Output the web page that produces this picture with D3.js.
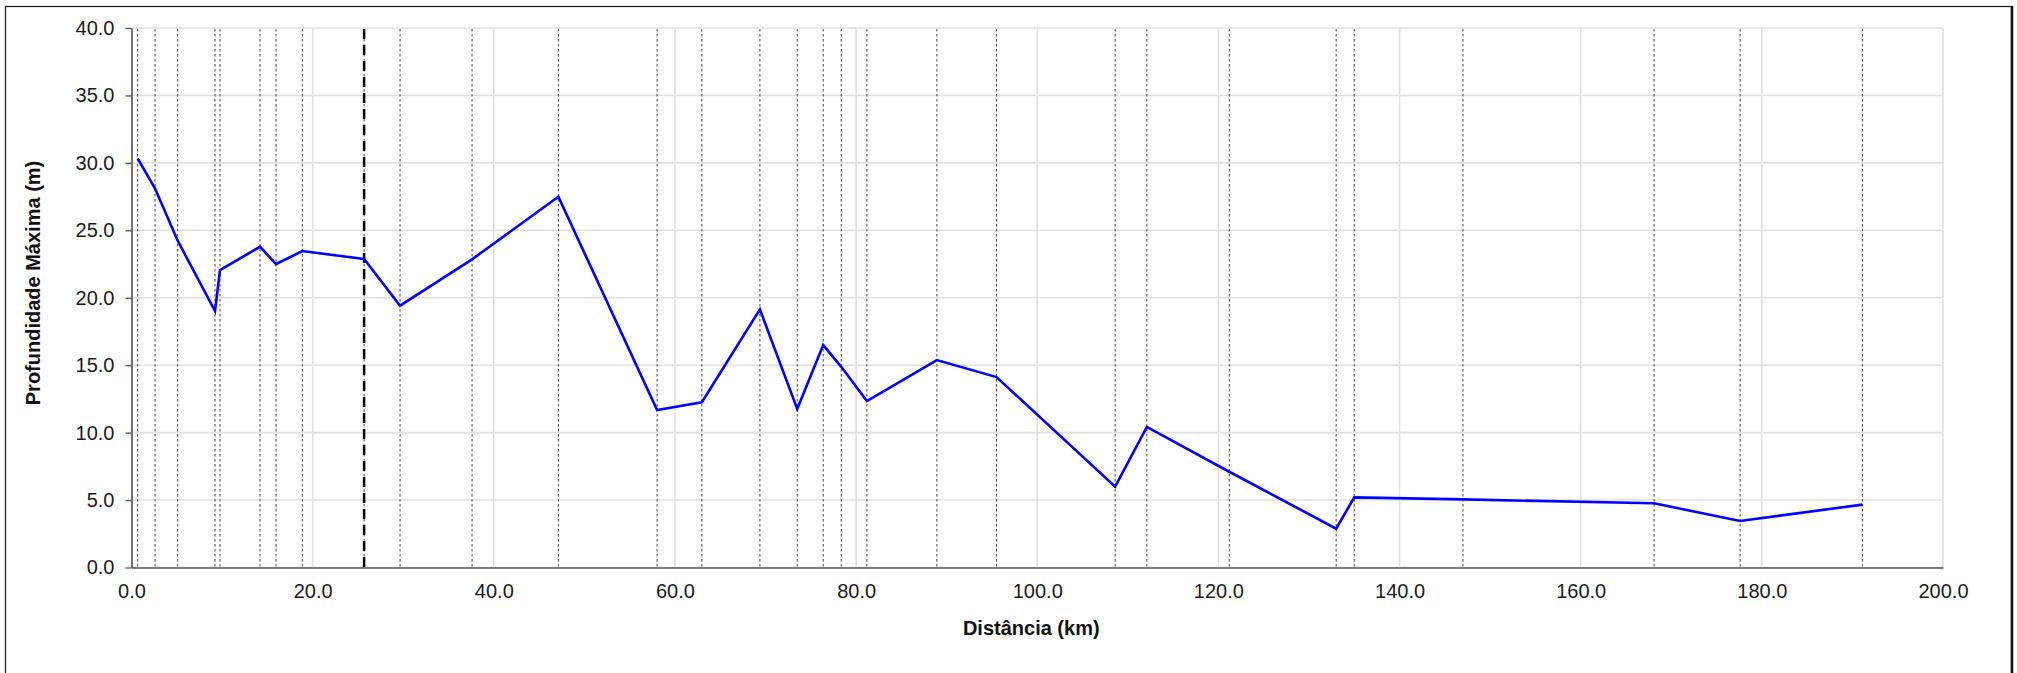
<!DOCTYPE html>
<html>
<head>
<meta charset="utf-8">
<script src="https://cdn.jsdelivr.net/npm/d3@7"></script>
<style>
  html, body { margin: 0; padding: 0; background: #fff; }
  svg { display: block; font-family: "Liberation Sans", Arial, sans-serif; }
</style>
</head>
<body>
<svg id="chart" width="2017" height="673"></svg>
<script>
// ---- Data ----
const distances = [0.68, 2.6, 5.1, 9.22, 9.77, 14.19, 15.96, 18.86, 25.68, 29.65,
  37.6, 47.13, 58.03, 62.97, 69.38, 73.5, 76.37, 78.36, 81.19, 88.92,
  95.5, 108.6, 112.1, 121.2, 133.0, 135.0, 147.0, 168.1, 177.6, 191.1];
const depths = [30.33, 28.1, 24.23, 19.01, 22.05, 23.78, 22.5, 23.46, 22.87, 19.41,
  22.85, 27.49, 11.68, 12.25, 19.14, 11.75, 16.49, 14.88, 12.34, 15.38,
  14.12, 5.99, 10.42, 7.10, 2.88, 5.20, 5.05, 4.76, 3.45, 4.66];
const highlightDistance = [25.68];
const xTicks = [0, 20, 40, 60, 80, 100, 120, 140, 160, 180, 200];
const yTicks = [0, 5, 10, 15, 20, 25, 30, 35, 40];
const xTitle = "Distância (km)";
const yTitle = "Profundidade Máxima (m)";

// ---- Layout ----
const svg = d3.select("#chart");
const plot = { left: 131.5, right: 1943, top: 28, bottom: 567.5 };

const x = d3.scaleLinear().domain([0, 200]).range([plot.left, plot.right]);
const y = d3.scaleLinear().domain([0, 40]).range([plot.bottom, plot.top]);

// frame
svg.append("rect").attr("x", 5.5).attr("y", 6.5).attr("width", 2006).attr("height", 720)
  .attr("fill", "#fff").attr("stroke", "#222").attr("stroke-width", 1.3);
svg.append("line").attr("x1", 2012).attr("x2", 2012).attr("y1", 6).attr("y2", 673)
  .attr("stroke", "#111").attr("stroke-width", 2.5);

// gridlines
const grid = svg.append("g");
grid.selectAll("line.h").data(yTicks).join("line").attr("class", "h")
  .attr("x1", plot.left).attr("x2", plot.right)
  .attr("y1", d => y(d)).attr("y2", d => y(d))
  .attr("stroke", "#e0e0e0").attr("stroke-width", 1.6);
grid.selectAll("line.v").data(xTicks).join("line").attr("class", "v")
  .attr("x1", d => x(d)).attr("x2", d => x(d))
  .attr("y1", plot.top).attr("y2", plot.bottom)
  .attr("stroke", "#e0e0e0").attr("stroke-width", 1.6);

// section markers (dotted)
svg.append("g").selectAll("line").data(distances).join("line")
  .attr("x1", d => x(d)).attr("x2", d => x(d))
  .attr("y1", plot.top + 1).attr("y2", plot.bottom)
  .attr("stroke", "#444").attr("stroke-width", 1)
  .attr("stroke-dasharray", "2.5,2.5");

// highlighted marker (thick dashed)
svg.append("g").selectAll("line").data(highlightDistance).join("line")
  .attr("x1", d => x(d)).attr("x2", d => x(d))
  .attr("y1", plot.top + 1).attr("y2", plot.bottom + 2)
  .attr("stroke", "#000").attr("stroke-width", 2.5)
  .attr("stroke-dasharray", "10,6");

// axes
const yAxis = d3.axisLeft(y).tickValues(yTicks).tickFormat(d3.format(".1f"))
  .tickSizeInner(6).tickSizeOuter(0).tickPadding(11);
const gy = svg.append("g").attr("transform", `translate(${plot.left},0)`).call(yAxis);
gy.select(".domain").attr("stroke", "#555").attr("stroke-width", 1.6);
gy.selectAll(".tick line").attr("stroke", "#555").attr("stroke-width", 1.3);
gy.selectAll(".tick text").attr("font-size", 20).attr("fill", "#1a1a1a")
  .attr("font-family", "Liberation Sans, Arial, sans-serif");

const xAxis = d3.axisBottom(x).tickValues(xTicks).tickFormat(d3.format(".1f"))
  .tickSizeInner(0).tickSizeOuter(0).tickPadding(16);
const gx = svg.append("g").attr("transform", `translate(0,${plot.bottom})`).call(xAxis);
gx.select(".domain").attr("stroke", "#555").attr("stroke-width", 1.6);
gx.selectAll(".tick text").attr("font-size", 20).attr("fill", "#1a1a1a")
  .attr("font-family", "Liberation Sans, Arial, sans-serif");

// data line
const line = d3.line().x((d, i) => x(distances[i])).y(d => y(d));
svg.append("path").datum(depths).attr("d", line)
  .attr("fill", "none").attr("stroke", "#0000ff").attr("stroke-width", 2.6)
  .attr("stroke-linejoin", "miter");

// titles
svg.append("text").attr("x", (plot.left + plot.right) / 2 - 6).attr("y", 635)
  .attr("text-anchor", "middle").attr("font-size", 20).attr("font-weight", "bold")
  .attr("fill", "#111").text(xTitle);
svg.append("text").attr("transform", "translate(40,283) rotate(-90)")
  .attr("text-anchor", "middle").attr("font-size", 20).attr("font-weight", "bold")
  .attr("fill", "#111").text(yTitle);
</script>
</body>
</html>
